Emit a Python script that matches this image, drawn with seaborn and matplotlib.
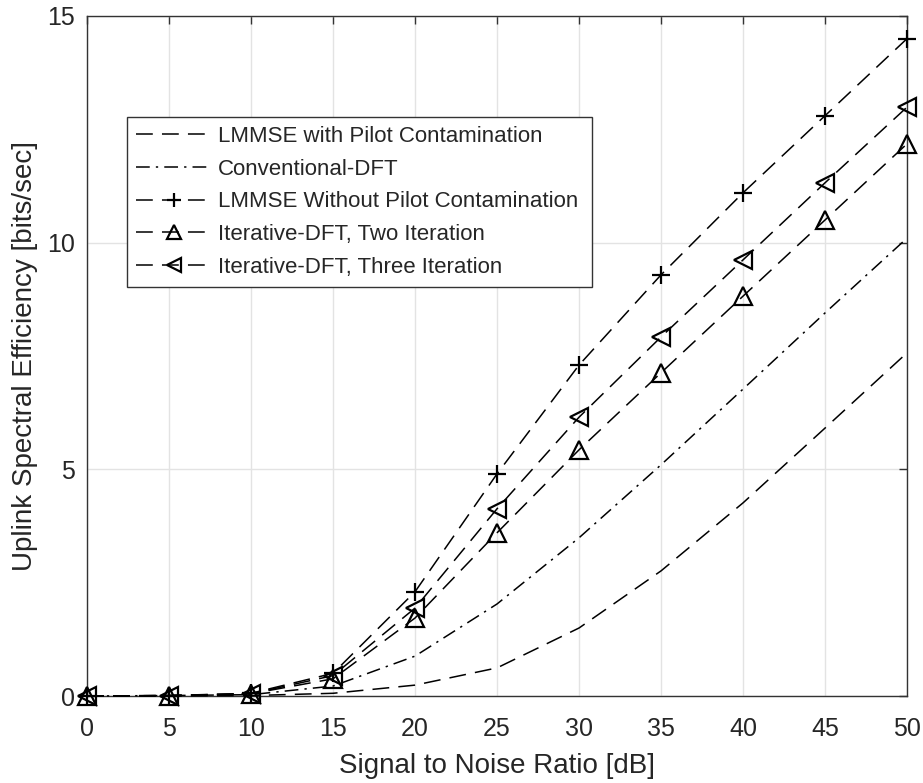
import matplotlib
matplotlib.use("Agg")
import matplotlib.pyplot as plt
import seaborn as sns
import pandas as pd

snr = [0, 5, 10, 15, 20, 25, 30, 35, 40, 45, 50]
lmmse_pc = [0, 0, 0.01, 0.06, 0.24, 0.62, 1.5, 2.76, 4.26, 5.91, 7.57]
conv_dft = [0, 0.01, 0.03, 0.22, 0.88, 2.03, 3.49, 5.1, 6.77, 8.45, 10.1]
lmmse_nopc = [0, 0.01, 0.06, 0.5, 2.3, 4.9, 7.3, 9.29, 11.1, 12.8, 14.5]
iter_two = [0, 0.01, 0.05, 0.38, 1.72, 3.6, 5.43, 7.13, 8.82, 10.5, 12.18]
iter_three = [0, 0.01, 0.05, 0.45, 1.94, 4.13, 6.15, 7.92, 9.62, 11.32, 12.99]

labels = ["LMMSE with Pilot Contamination", "Conventional-DFT",
          "LMMSE Without Pilot Contamination", "Iterative-DFT, Two Iteration",
          "Iterative-DFT, Three Iteration"]
series = [lmmse_pc, conv_dft, lmmse_nopc, iter_two, iter_three]

rows = []
for lab, vals in zip(labels, series):
    for x, y in zip(snr, vals):
        rows.append({"snr": x, "val": y, "series": lab})
df = pd.DataFrame(rows)

sns.set_style("white")
plt.rcParams['font.family'] = ['Liberation Sans', 'DejaVu Sans']

fig = plt.figure(figsize=(9.23, 7.83), dpi=100)
ax = fig.add_axes([0.0943, 0.1111, 0.8884, 0.8685])

dash_map = {
    labels[0]: (11, 6),
    labels[1]: (9, 4, 1.5, 4),
    labels[2]: (11, 6),
    labels[3]: (11, 6),
    labels[4]: (11, 6),
}
marker_map = {labels[0]: "", labels[1]: "", labels[2]: "+", labels[3]: "^", labels[4]: "<"}

for lab in labels:
    sub = df[df.series == lab]
    m = marker_map[lab]
    sns.lineplot(data=sub, x="snr", y="val", ax=ax, color="black", lw=1.1,
                 marker=m if m else None, markersize=13,
                 markerfacecolor="none", markeredgecolor="black", markeredgewidth=1.6,
                 label=lab, dashes=False, clip_on=False, zorder=3)
    ln = ax.lines[-1]
    ln.set_dashes(dash_map[lab])

ax.set_xlim(0, 50)
ax.set_ylim(0, 15)
ax.set_xticks(range(0, 51, 5))
ax.set_yticks([0, 5, 10, 15])
ax.grid(True, color="#e3e3e3", lw=1)
ax.tick_params(labelsize=18, direction="in", length=6, color="#333333", pad=9,
               top=True, right=True, width=1)
ax.tick_params(axis="x", pad=15)
for s in ax.spines.values():
    s.set_color("#333333")
    s.set_linewidth(1.0)
ax.set_xlabel("Signal to Noise Ratio [dB]", fontsize=20, color="#262626", labelpad=9)
ax.set_ylabel("Uplink Spectral Efficiency [bits/sec]", fontsize=20, color="#262626", labelpad=6)
for t in ax.get_xticklabels() + ax.get_yticklabels():
    t.set_color("#262626")

leg = ax.legend(loc="upper left", bbox_to_anchor=(0.0488, 0.0, 0.567, 0.8515),
                mode="expand", fontsize=16, markerscale=0.75,
                frameon=True, fancybox=False, edgecolor="#333333", framealpha=1,
                handlelength=3.4, borderpad=0.4, labelspacing=0.53, handletextpad=0.3,
                borderaxespad=0)
leg.get_frame().set_linewidth(1.0)

fig.savefig("out.png", dpi=100)
